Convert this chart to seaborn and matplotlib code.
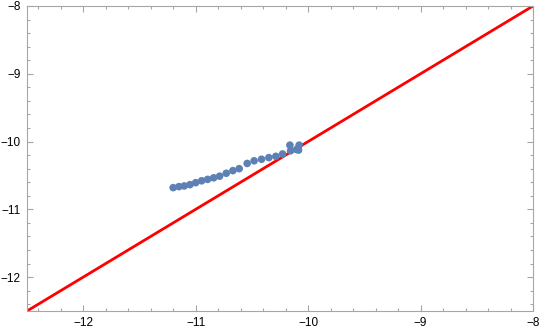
import matplotlib
matplotlib.use("Agg")
import matplotlib.pyplot as plt
import seaborn as sns
import numpy as np
import pandas as pd
from matplotlib.ticker import MultipleLocator

x_vals = [-11.20, -11.149, -11.102, -11.051, -11.000, -10.947, -10.894, -10.840,
          -10.787, -10.728, -10.669, -10.613, -10.542, -10.480, -10.414, -10.349,
          -10.287, -10.227, -10.162, -10.156, -10.103, -10.080, -10.085]
y_vals = [-10.68, -10.665, -10.655, -10.636, -10.607, -10.579, -10.558, -10.535,
          -10.511, -10.468, -10.429, -10.400, -10.323, -10.284, -10.261, -10.237,
          -10.218, -10.183, -10.053, -10.136, -10.117, -10.053, -10.126]
line_x = [-12.5, -8.0]
line_y = [-12.5, -8.0]
x_ticks = [-12, -11, -10, -9, -8]
y_ticks = [-8, -9, -10, -11, -12]

sns.set_style("white")
plt.rcParams['font.family'] = ['Liberation Sans', 'DejaVu Sans']

fig = plt.figure(figsize=(5.4, 3.36), dpi=100)
ax = fig.add_axes([27/540, 1-311/336, (533-27)/540, (311-6)/336])

df_pts = pd.DataFrame({"x": x_vals, "y": y_vals})
df_line = pd.DataFrame({"x": line_x, "y": line_y})

sns.lineplot(data=df_line, x="x", y="y", color="#FF0000", linewidth=2.0, ax=ax)
sns.scatterplot(data=df_pts, x="x", y="y", color="#5E81B5", s=30, edgecolor="none", ax=ax, zorder=3)

ax.set_xlim(-12.5, -8)
ax.set_ylim(-12.5, -8)
ax.set_xticks(x_ticks)
ax.set_yticks(y_ticks)
ax.set_xticklabels([str(t).replace('-', '\u2212') for t in x_ticks])
ax.set_yticklabels([str(t).replace('-', '\u2212') for t in y_ticks])
ax.xaxis.set_minor_locator(MultipleLocator(0.2))
ax.yaxis.set_minor_locator(MultipleLocator(0.2))
ax.set_xlabel("")
ax.set_ylabel("")

for sp in ax.spines.values():
    sp.set_color("#A6A6A6")
    sp.set_linewidth(0.8)

ax.tick_params(which="both", direction="in", top=True, right=True, bottom=True, left=True,
               color="#A6A6A6", width=0.8, labelsize=8.5, labelcolor="#000000")
ax.tick_params(which="major", length=4.5, pad=4.5)
ax.tick_params(which="minor", length=2.5)
ax.tick_params(axis="x", which="both", labeltop=False)
ax.tick_params(axis="y", which="both", labelright=False)

fig.savefig("out.png", dpi=100)
